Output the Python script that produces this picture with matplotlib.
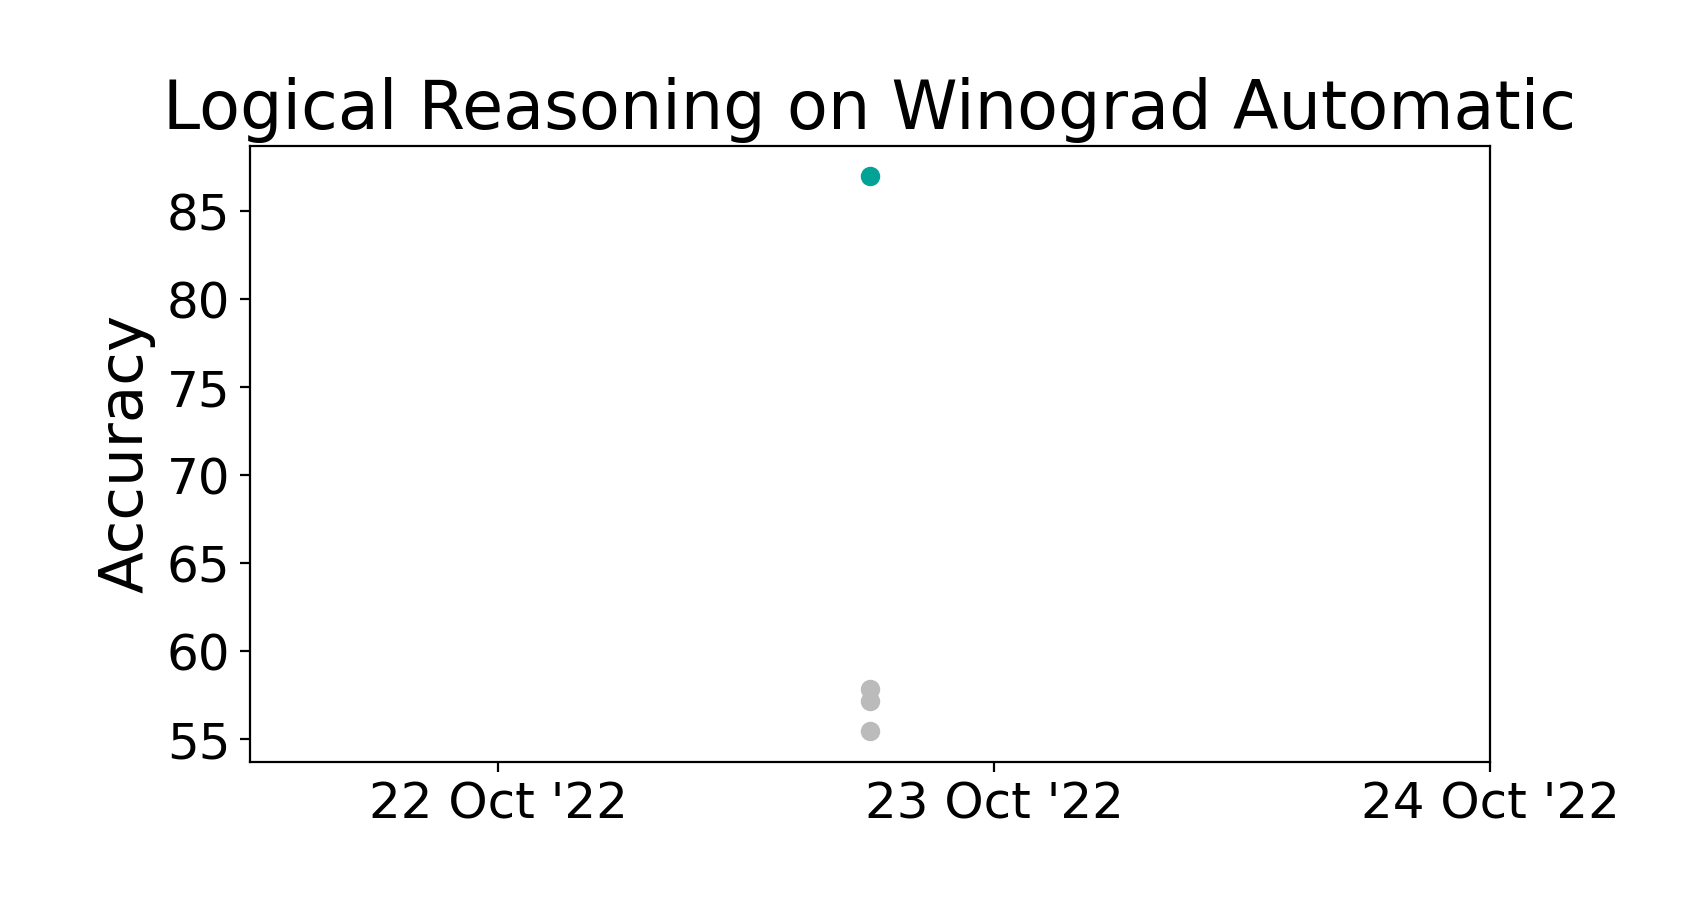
import matplotlib
matplotlib.use("Agg")
import matplotlib.pyplot as plt
import matplotlib.dates as mdates
import pandas as pd

# Data
dates_highlight = ["2022-10-22 18:00"]
acc_highlight = [87.0]
dates_other = ["2022-10-22 18:00", "2022-10-22 18:00", "2022-10-22 18:00"]
acc_other = [57.86, 57.17, 55.48]

title = "Logical Reasoning on Winograd Automatic"
ylabel = "Accuracy"

fig = plt.figure(figsize=(8.5, 4.5), dpi=200)
ax = fig.add_axes([250/1700, 1 - 761.5/900, (1490 - 250)/1700, (761.5 - 146)/900])

ax.scatter(pd.to_datetime(dates_other), acc_other, color="#bbbbbb", s=36, zorder=2)
ax.scatter(pd.to_datetime(dates_highlight), acc_highlight, color="#00a396", s=36, zorder=3)

ax.set_xlim(pd.Timestamp("2022-10-21 12:00"), pd.Timestamp("2022-10-24 00:00"))
ax.set_ylim(53.75, 88.69)
ax.xaxis.set_major_locator(mdates.DayLocator())
ax.xaxis.set_major_formatter(mdates.DateFormatter("%d %b '%y"))
ax.set_yticks([55, 60, 65, 70, 75, 80, 85])

ax.tick_params(axis="both", labelsize=18)
ax.set_ylabel(ylabel, fontsize=22)
ax.set_title(title, fontsize=24.1)

fig.savefig("out.png", dpi=200)
